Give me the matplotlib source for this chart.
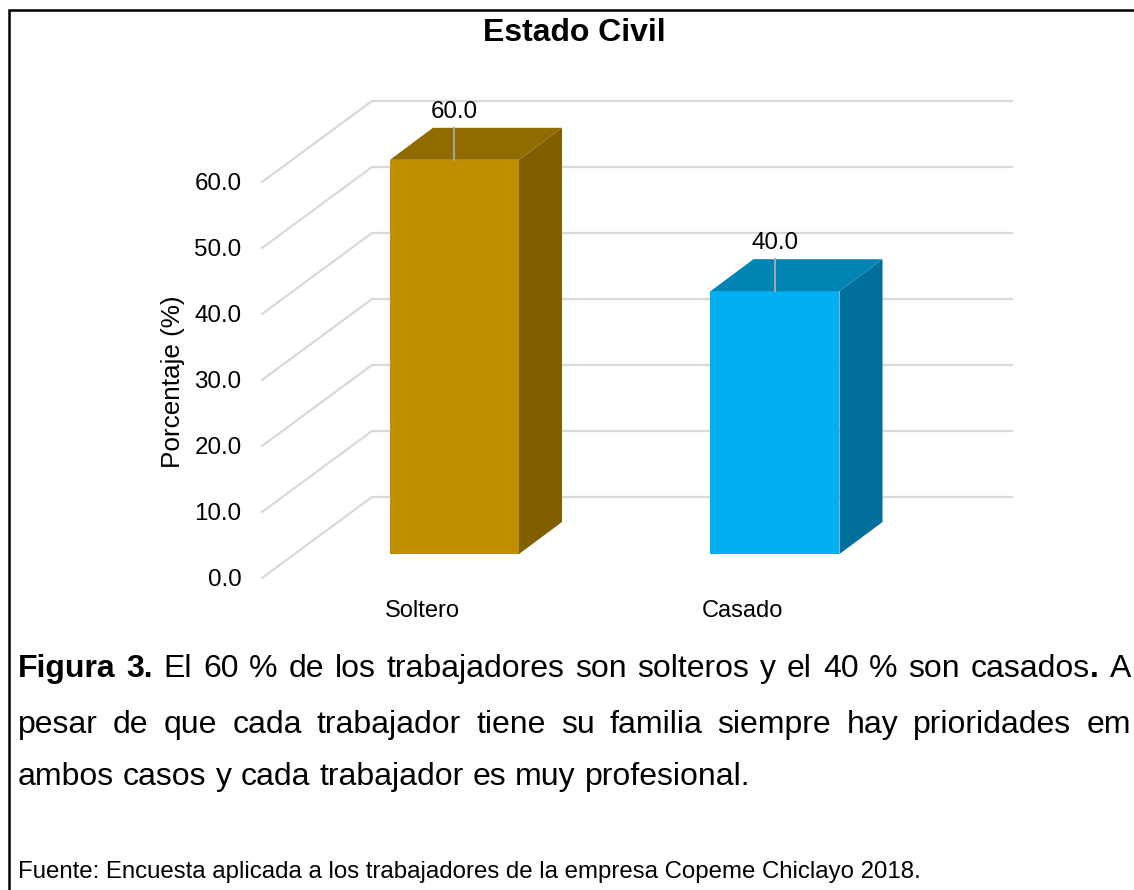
import matplotlib
matplotlib.use('Agg')
import matplotlib.pyplot as plt
from matplotlib.patches import Polygon, Rectangle

plt.rcParams['font.family'] = ['Liberation Sans', 'DejaVu Sans']

categories = ['Soltero', 'Casado']
values = [60.0, 40.0]
ticks = [0.0, 10.0, 20.0, 30.0, 40.0, 50.0, 60.0]
title = 'Estado Civil'
ylabel = 'Porcentaje (%)'
caption_lines = [
    [('Figura', True), ('3.', True), ('El', False), ('60', False), ('%', False), ('de', False), ('los', False),
     ('trabajadores', False), ('son', False), ('solteros', False), ('y', False), ('el', False), ('40', False),
     ('%', False), ('son', False), ('casados', False), ('.', True), ('A', False)],
    [(w, False) for w in 'pesar de que cada trabajador tiene su familia siempre hay prioridades em'.split()],
    [(w, False) for w in 'ambos casos y cada trabajador es muy profesional.'.split()],
]
source = 'Fuente: Encuesta aplicada a los trabajadores de la empresa Copeme Chiclayo 2018.'

W, H = 1134, 890
front_colors = ['#BF8F00', '#00B0F0']
top_colors = ['#8F6B00', '#0084B4']
side_colors = ['#7F5F00', '#006F9B']

# one axes over the whole picture: x in categories, y in percent
px_x = 320.5      # pixels per category
px_y = 6.57       # pixels per percent on the bars
x0 = 454.5        # pixel of first category
y0 = 554          # pixel of the bars' zero
grid_px = 6.6     # pixels per percent on the walls

fig = plt.figure(figsize=(W / 100, H / 100), dpi=100)
ax = fig.add_axes([0, 0, 1, 1])
ax.set_xlim(-x0 / px_x, (W - x0) / px_x)
ax.set_ylim((y0 - H) / px_y, y0 / px_y)
ax.axis('off')

# 3d wall, offsets in data units
wall_scale = grid_px / px_y
wall_left = (262 - x0) / px_x
wall_back = (372 - x0) / px_x
wall_right = (1012 - x0) / px_x
front_base = (y0 - 578) / px_y
back_base = (y0 - 497) / px_y
label_shift = 2 / px_y
for t in ticks:
    yf = front_base + t * wall_scale
    yb = back_base + t * wall_scale
    ax.plot([wall_left, wall_back, wall_right], [yf, yb, yb], color='#D9D9D9', lw=1.6, zorder=1,
            solid_joinstyle='miter')
    ax.text(wall_left - 0.064, yf - label_shift, '%.1f' % t, ha='right', va='center', fontsize=17.4, color='black')

ax.text((173 - x0) / px_x, (y0 - 382) / px_y, ylabel, rotation=90, ha='center', va='center', fontsize=18.8)

# bars
bar_w = 129 / px_x
dx = 43 / px_x
dy = 32 / px_y
for i, (cat, v) in enumerate(zip(categories, values)):
    left = i - bar_w / 2
    right = i + bar_w / 2
    ax.bar(i, v, width=bar_w, color=front_colors[i], zorder=3)
    ax.add_patch(Polygon([(right, 0), (right + dx, dy), (right + dx, v + dy), (right, v)],
                         closed=True, color=side_colors[i], lw=0, zorder=3))
    ax.add_patch(Polygon([(left, v), (left + dx, v + dy), (right + dx, v + dy), (right, v)],
                         closed=True, color=top_colors[i], lw=0, zorder=3))
    # leader line and value
    ax.plot([i, i], [v, v + dy], color='#A6A6A6', lw=1.4, zorder=4)
    ax.text(i, v + dy + 0.75, '%.1f' % v, ha='center', va='bottom', fontsize=17.4, color='black', zorder=5)

ax.text((422 - x0) / px_x, (y0 - 611) / px_y, categories[0], ha='center', va='center', fontsize=17)
ax.text((742 - x0) / px_x, (y0 - 611) / px_y, categories[1], ha='center', va='center', fontsize=17)

# outer box and title
fig.add_artist(Rectangle((8.5 / W, -0.01), (W + 20) / W, 1 - 10 / H + 0.01, transform=fig.transFigure,
                         fill=False, ec='black', lw=1.8))
fig.text(574 / W, 1 - 33 / H, title, ha='center', va='center', fontsize=23, fontweight='bold')

# caption, words placed one by one to get the justified lines
renderer = fig.canvas.get_renderer()
line_y = [669, 725, 777]
line_left = 18
line_right = 1131
cap_size = 23
space = 9
for n, words in enumerate(caption_lines):
    items = []
    for w, bold in words:
        t = fig.text(0, 1 - line_y[n] / H, w, fontsize=cap_size, va='center', ha='left',
                     fontweight='bold' if bold else 'normal')
        items.append((t, t.get_window_extent(renderer).width, w))
    total = sum(i[1] for i in items)
    gaps = [0 if items[k + 1][2] == '.' else 1 for k in range(len(items) - 1)]
    gap = (line_right - line_left - total) / sum(gaps) if n < 2 else space
    x = line_left
    for k, (t, width, w) in enumerate(items):
        t.set_x(x / W)
        x += width
        if k < len(gaps):
            x += gap * gaps[k]

fig.text(18 / W, 1 - 872 / H, source, fontsize=17.3, ha='left', va='center')

fig.savefig('out.png', dpi=100)
